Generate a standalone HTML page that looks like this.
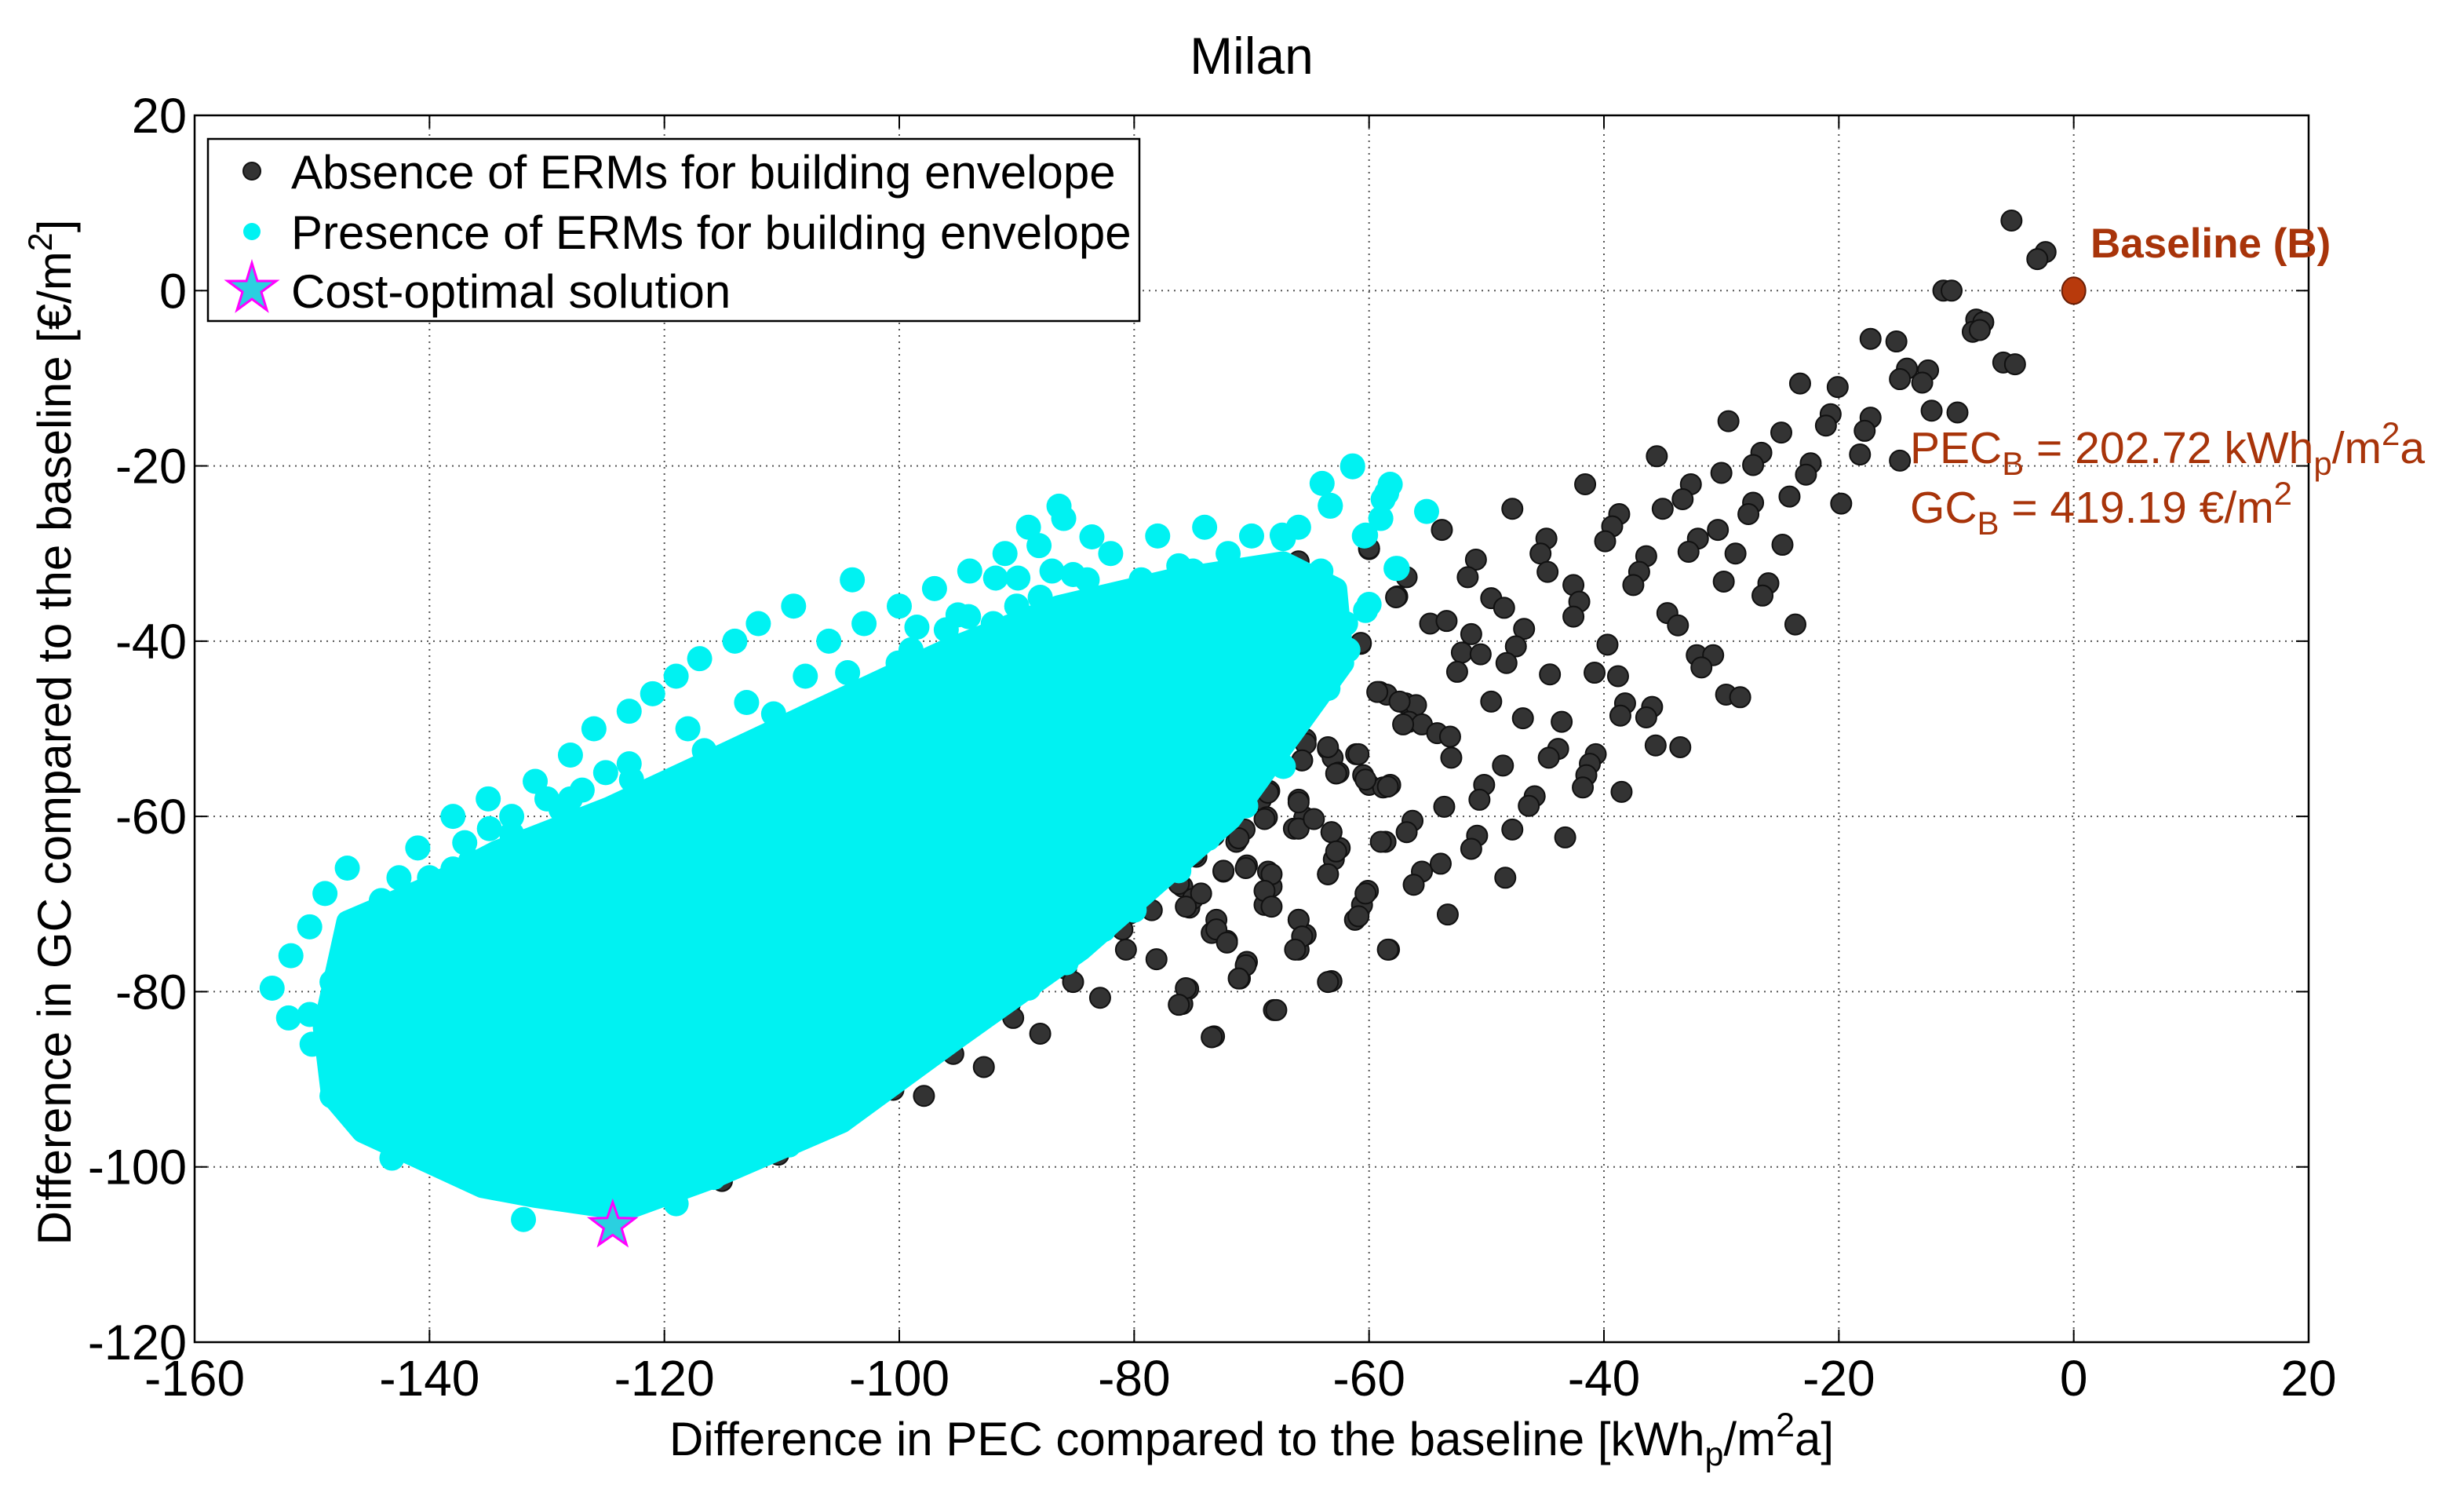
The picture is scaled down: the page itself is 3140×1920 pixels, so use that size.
<!DOCTYPE html>
<html><head><meta charset="utf-8"><style>
html,body{margin:0;padding:0;background:#fff;}
svg{display:block;font-family:"Liberation Sans",Arial,sans-serif;}
</style></head><body>
<svg id="chart" width="3140" height="1920" viewBox="0 0 3140 1920" xmlns="http://www.w3.org/2000/svg">
<rect x="0" y="0" width="3140" height="1920" fill="#fff"/>
<text x="1595" y="94" font-size="66" text-anchor="middle">Milan</text>
<g id="grid"></g>
<g id="marks"></g>
<g id="axes"></g>
<text x="1595" y="1854" font-size="60" text-anchor="middle">Difference in PEC compared to the baseline [kWh<tspan font-size="43" dy="13">p</tspan><tspan dy="-13">/m</tspan><tspan font-size="43" dy="-24">2</tspan><tspan dy="24">a]</tspan></text>
<text transform="translate(90,933) rotate(-90)" font-size="60" text-anchor="middle">Difference in GC compared to the baseline [€/m<tspan font-size="43" dy="-24">2</tspan><tspan dy="24">]</tspan></text>
<text x="2664" y="328" font-size="53" font-weight="bold" fill="#a8340a">Baseline (B)</text>
<text x="2434" y="590" font-size="57" fill="#a8340a">PEC<tspan font-size="42" dy="15">B</tspan><tspan dy="-15"> = 202.72 kWh</tspan><tspan font-size="42" dy="15">p</tspan><tspan dy="-15">/m</tspan><tspan font-size="42" dy="-23">2</tspan><tspan dy="23">a</tspan></text>
<text x="2434" y="666" font-size="57" fill="#a8340a">GC<tspan font-size="42" dy="15">B</tspan><tspan dy="-15"> = 419.19 €/m</tspan><tspan font-size="42" dy="-23">2</tspan></text>
<g>
<rect x="265" y="177" width="1187" height="232" fill="#fff" stroke="#000" stroke-width="2.5"/>
<circle cx="321" cy="218" r="11" fill="#333" stroke="#111" stroke-width="2"/>
<text x="371" y="240" font-size="60">Absence of ERMs for building envelope</text>
<circle cx="321" cy="295" r="11" fill="#00f2f2"/>
<text x="371" y="317" font-size="60">Presence of ERMs for building envelope</text>
<polygon points="321,335 328,358 352,358 333,372 340,395 321,381 302,395 309,372 290,358 314,358" fill="#2ad0e0" stroke="#ff00ff" stroke-width="3"/>
<text x="371" y="392" font-size="60">Cost-optimal solution</text>
</g>
</svg>
<script>
const xTicks = [-160,-140,-120,-100,-80,-60,-40,-20,0,20];
const yTicks = [20,0,-20,-40,-60,-80,-100,-120];
const blackX = [-5.3,-2.4,-3.1,-11.1,-10.4,-8.3,-7.7,-8.6,-8.0,-6.0,-5.0,-17.3,-15.1,-14.2,-14.8,-12.4,-12.9,-23.3,-20.1,-12.1,-9.9,-29.4,-24.9,-20.7,-21.1,-17.3,-17.8,-18.2,-14.8,-35.5,-30.0,-26.6,-27.3,-22.4,-22.8,-41.6,-47.8,-38.7,-39.3,-39.9,-35.0,-32.6,-33.3,-27.3,-27.7,-24.2,-19.8,-30.3,-32.0,-32.8,-28.8,-24.8,-44.9,-45.4,-44.8,-50.9,-51.6,-53.8,-60.0,-56.8,-57.6,-49.6,-48.5,-42.6,-42.1,-42.6,-36.4,-37.0,-37.5,-29.8,-26.0,-26.5,-34.6,-33.7,-23.7,-54.8,-53.4,-51.3,-46.8,-47.5,-48.3,-52.1,-50.5,-52.5,-39.7,-40.8,-38.8,-44.6,-32.1,-30.7,-31.7,-60.7,-59.1,-58.5,-56.9,-56.0,-56.6,-55.5,-54.2,-53.1,-53.0,-49.6,-46.9,-43.6,-38.2,-38.6,-35.9,-36.4,-29.6,-28.4,-35.6,-33.5,-65.4,-63.5,-63.1,-65.7,-61.1,-62.6,-60.5,-60.0,-58.8,-58.2,-43.9,-44.7,-40.7,-41.2,-41.5,-48.6,-50.2,-50.6,-45.9,-46.4,-38.5,-41.8,-53.6,-68.5,-69.2,-66.0,-65.5,-66.4,-68.7,-71.0,-71.3,-70.6,-63.2,-62.5,-63.0,-63.5,-58.6,-56.3,-56.8,-50.8,-51.3,-47.8,-43.3,-73.2,-74.7,-72.4,-70.4,-68.6,-68.3,-68.9,-75.9,-75.3,-75.0,-73.0,-73.4,-72.1,-66.0,-65.4,-66.0,-60.1,-60.6,-61.2,-55.5,-56.2,-53.9,-53.3,-48.4,-58.3,-70.4,-71.0,-63.2,-75.4,-75.9,-68.1,-73.2,
-66.0,-60.0,-63.2,-57.7,-60.7,-59.3,-57.4,-57.1,-65.4,-63.5,-65.7,-60.9,-62.8,-60.3,-58.4,-68.6,-66.0,-68.9,-66.0,-64.7,-63.2,-59.0,-73.7,-71.1,-74.9,-72.4,-70.5,-68.3,-62.8,-63.5,-68.9,-68.3,-60.3,-60.9,-58.4,-76.2,-74.3,-75.6,-78.5,-80.4,-81.0,-73.0,-72.1,-66.0,-65.7,-66.3,-80.7,-78.1,-70.5,-71.1,-75.6,-76.2,-67.9,-63.5,-85.8,-85.2,-82.9,-90.6,-90.3,-88.0,-73.4,-95.4,-92.8,-100.5,-97.9,-103.6,-105.6,-110.3,-115.1,-118.3,-113.2,-120.9,-108.1];
const blackY = [8.0,4.4,3.6,0,0,-3.3,-3.6,-4.7,-4.5,-8.2,-8.4,-5.5,-5.8,-8.9,-10.1,-9.1,-10.5,-10.6,-11.0,-13.7,-13.9,-14.9,-16.2,-14.1,-15.4,-14.5,-16.0,-18.7,-19.4,-18.9,-20.8,-18.5,-19.9,-19.7,-21.0,-22.1,-24.9,-25.5,-26.9,-28.6,-24.9,-22.1,-23.8,-24.2,-25.5,-23.5,-24.3,-27.3,-28.3,-29.8,-30.0,-29.0,-28.3,-30.0,-32.1,-30.7,-32.7,-27.3,-29.5,-32.7,-34.9,-35.1,-36.2,-33.6,-35.5,-37.2,-30.3,-32.1,-33.6,-33.2,-33.4,-34.8,-36.8,-38.2,-38.1,-38.0,-37.7,-39.2,-38.6,-40.6,-42.5,-41.3,-41.5,-43.5,-40.4,-43.6,-44.0,-43.8,-41.6,-41.6,-43.0,-40.3,-45.8,-46.1,-47.1,-47.3,-49.2,-49.5,-50.5,-50.9,-53.3,-46.9,-48.8,-49.2,-47.1,-48.5,-47.5,-48.7,-46.1,-46.4,-51.9,-52.1,-51.2,-52.3,-53.3,-53.6,-52.9,-55.0,-55.3,-56.4,-56.7,-56.4,-52.3,-53.3,-52.9,-54.0,-55.3,-54.2,-56.4,-58.1,-57.7,-58.8,-57.2,-56.7,-58.9,-57.1,-58.1,-58.1,-60.1,-61.4,-60.1,-61.8,-62.9,-61.5,-61.8,-63.6,-64.9,-66.6,-62.9,-60.5,-61.8,-62.2,-63.7,-61.5,-62.4,-62.2,-64.6,-66.3,-65.6,-66.3,-68.0,-70.1,-68.0,-70.4,-69.4,-71.8,-73.3,-74.2,-71.8,-73.5,-75.2,-68.5,-70.1,-71.8,-66.3,-67.8,-65.4,-71.2,-67.0,-75.2,-76.6,-78.5,-78.8,-79.7,-81.4,-82.1,-85.1,
-30.9,-29.4,-34.6,-35.0,-40.2,-45.8,-46.9,-49.5,-51.7,-52.1,-53.6,-52.9,-55.1,-55.8,-56.6,-57.3,-58.4,-60.3,-61.4,-60.3,-61.8,-62.9,-62.2,-62.5,-64.4,-66.2,-65.9,-66.6,-64.0,-66.6,-68.5,-70.3,-68.8,-71.4,-75.2,-67.7,-68.8,-70.3,-70.7,-71.1,-72.9,-72.9,-74.4,-71.8,-73.7,-75.2,-75.2,-76.3,-77.0,-78.5,-79.6,-81.5,-82.1,-78.9,-77.4,-78.9,-80.7,-81.5,-83.0,-84.8,-85.2,-87.1,-88.6,-91.2,-91.9,-88.6,-95.1,-98.6,-101.6,-98.2,-95.2,-92.6,-91.5];
const cyanHullX = [-147.0,-140.0,-134.3,-124.7,-115.1,-105.6,-96.0,-86.4,-76.9,-67.3,-62.8,-62.2,-71.8,-84.5,-95.4,-104.9,-115.8,-123.4,-131.1,-135.5,-145.7,-148.3,-149.0];
const cyanHullY = [-72.0,-68.0,-64.0,-59.0,-53.0,-47.0,-41.0,-36.0,-33.0,-31.0,-34.0,-42.5,-60.3,-75.2,-85.6,-94.9,-101.2,-104.9,-103.4,-102.3,-96.0,-91.9,-84.1];
const cyanX = [-153.4,-151.8,-150.2,-148.9,-147.0,-150.2,-148.3,-145.7,-144.1,-142.6,-141.0,-140,-138.1,-136.5,-134.9,-132.3,-130.4,-128.8,-130.8,-126.6,-124.4,-122.8,-122.1,-119.9,-118.3,-116.6,-114.2,-112.6,-110.7,-110.0,-106.2,-104.4,-101.7,-100.1,-98.5,-96.0,-94.1,-91.8,-89.9,-88.1,-86.4,-85.2,-83.6,-79.4,-76.2,-67.3,-63.3,-61.4,-58.5,-60.4,-57.7,-60.3,-64.1,-63.5,-66.0,-119.0,-127.2,-132.0,-143.2,-148.3,-145.4,-134.3,-115.8,-112.6,-109.4,-105.6,-101.7,-97.3,-92.8,-89.0,-85.8,-82.6,-80.0,-76.2,-73.7,-70.5,-67.3,-61.4,-58.2,-58.8,-63.3,-55.1,-60.3,-67.4,-57.6,-60.0,-61.8,-95,-92,-88,-84,-80,-75,-72,-70,-68,-65,-62,-146,-143,-140,-137,-133,-130,-127,-125,
-138,-135,-131,-128,-126,-123,-121,-119,-117,-114,-112,-109,-106,-103,-100,-97,-94,-91,-89,-86,-108,-113,-118,-123,-128,-133,-138,-142,-145,-150,-147,-152,-104,-99,-95,-90,-87,-82,-78,-74,-70,-66,-64,-59];
const cyanY = [-79.6,-75.9,-72.6,-68.8,-65.9,-82.6,-78.9,-75.2,-69.6,-67.0,-63.6,-71.4,-67.0,-65.1,-61.4,-65.5,-62.5,-59.2,-69.2,-62.5,-59.9,-55.8,-60.3,-59.6,-56.6,-52.5,-55.1,-52.9,-48.3,-57.3,-48.4,-43.6,-45.4,-42.5,-38.4,-38.7,-37.2,-32.8,-32.8,-29.1,-24.6,-32.4,-28.1,-33.0,-31.4,-28.3,-24.6,-20,-23.1,-28.0,-31.7,-36.5,-32.0,-45.4,-47.7,-104.2,-103.8,-106.0,-99.0,-91.9,-95.2,-102.3,-101.2,-99.0,-97.5,-93.8,-89.3,-86.3,-82.6,-79.6,-76.7,-72.9,-70.7,-66.2,-62.5,-58.8,-54.3,-20.1,-22.1,-23.8,-24.5,-25.2,-27.9,-27.9,-31.7,-35.8,-41.0,-42,-38,-35,-33,-35,-32,-30,-33,-38,-40,-38,-72,-70,-67,-63,-60,-58,-57,-55,
-60,-58,-56,-53,-50,-48,-46,-44,-42,-40,-38,-36,-40,-38,-36,-34,-32,-30,-27,-26,-44,-47,-50,-54,-58,-62,-66,-73,-78,-86,-88,-83,-33,-41,-37,-36,-32,-30,-28,-27,-28,-27,-22,-26];
const baselineX = [0];
const baselineY = [0];
const optimalX = [-124.4];
const optimalY = [-106.7];

const NS = "http://www.w3.org/2000/svg";
const L = 248, R = 2942, T = 147, B = 1710;
const xMin = -160, xMax = 20, yMin = -120, yMax = 20;
function sx(v){ return L + (v - xMin) / (xMax - xMin) * (R - L); }
function sy(v){ return B - (v - yMin) / (yMax - yMin) * (B - T); }
function mk(tag, attrs, parent){
  const el = document.createElementNS(NS, tag);
  for (const k in attrs) el.setAttribute(k, attrs[k]);
  parent.appendChild(el);
  return el;
}
const grid = document.getElementById('grid');
const marks = document.getElementById('marks');
const axes = document.getElementById('axes');

xTicks.forEach(function(t){
  const x = sx(t);
  if (t !== xMin && t !== xMax) {
    const g = mk('line', {x1:x, x2:x, y1:T, y2:B, stroke:'#555', 'stroke-width':2, 'stroke-dasharray':'2 6'}, grid);
    
    
  }
  const tk1 = mk('line', {x1:x, x2:x, y1:B, y2:B-16, stroke:'#000', 'stroke-width':2}, axes);
  
  
  const tk2 = mk('line', {x1:x, x2:x, y1:T, y2:T+16, stroke:'#000', 'stroke-width':2}, axes);
  
  
  const lb = mk('text', {x:x, y:1778, 'font-size':64, 'text-anchor':'middle'}, axes);
  lb.textContent = String(t);
  
  
});
yTicks.forEach(function(t){
  const y = sy(t);
  if (t !== yMin && t !== yMax) {
    const g = mk('line', {x1:L, x2:R, y1:y, y2:y, stroke:'#555', 'stroke-width':2, 'stroke-dasharray':'2 6'}, grid);
    
    
  }
  const tk1 = mk('line', {x1:L, x2:L+16, y1:y, y2:y, stroke:'#000', 'stroke-width':2}, axes);
  
  
  const tk2 = mk('line', {x1:R, x2:R-16, y1:y, y2:y, stroke:'#000', 'stroke-width':2}, axes);
  
  
  const lb = mk('text', {x:238, y:y+22, 'font-size':63, 'text-anchor':'end'}, axes);
  lb.textContent = String(t);
  
  
});
const frame = mk('rect', {x:L, y:T, width:R-L, height:B-T, fill:'none', stroke:'#000', 'stroke-width':2.5}, axes);



blackX.forEach(function(v, i){
  const c = mk('circle', {cx:sx(v), cy:sy(blackY[i]), r:13, fill:'#333', stroke:'#111', 'stroke-width':2}, marks);
  
  
});
const hullPts = cyanHullX.map(function(v, i){ return sx(v) + ',' + sy(cyanHullY[i]); }).join(' ');
const hull = mk('polygon', {points:hullPts, fill:'#00f2f2', stroke:'#00f2f2', 'stroke-width':28, 'stroke-linejoin':'round'}, marks);


cyanX.forEach(function(v, i){
  const c = mk('circle', {cx:sx(v), cy:sy(cyanY[i]), r:16, fill:'#00f2f2'}, marks);
  
  
});
baselineX.forEach(function(v, i){
  const c = mk('ellipse', {cx:sx(v), cy:sy(baselineY[i]), rx:15, ry:17, fill:'#b83a0c', stroke:'#6a1e05', 'stroke-width':2}, marks);
  
  
});
optimalX.forEach(function(v, i){
  const cx = sx(v), cy = sy(optimalY[i]);
  const pts = [];
  for (let k = 0; k < 10; k++) {
    const r = k % 2 === 0 ? 30 : 12;
    const a = -Math.PI/2 + k * Math.PI/5;
    pts.push((cx + r*Math.cos(a)).toFixed(1) + ',' + (cy + r*Math.sin(a)).toFixed(1));
  }
  const s = mk('polygon', {points:pts.join(' '), fill:'#2ad0e0', stroke:'#ff00ff', 'stroke-width':3}, marks);
  
  
});
</script>
</body></html>
